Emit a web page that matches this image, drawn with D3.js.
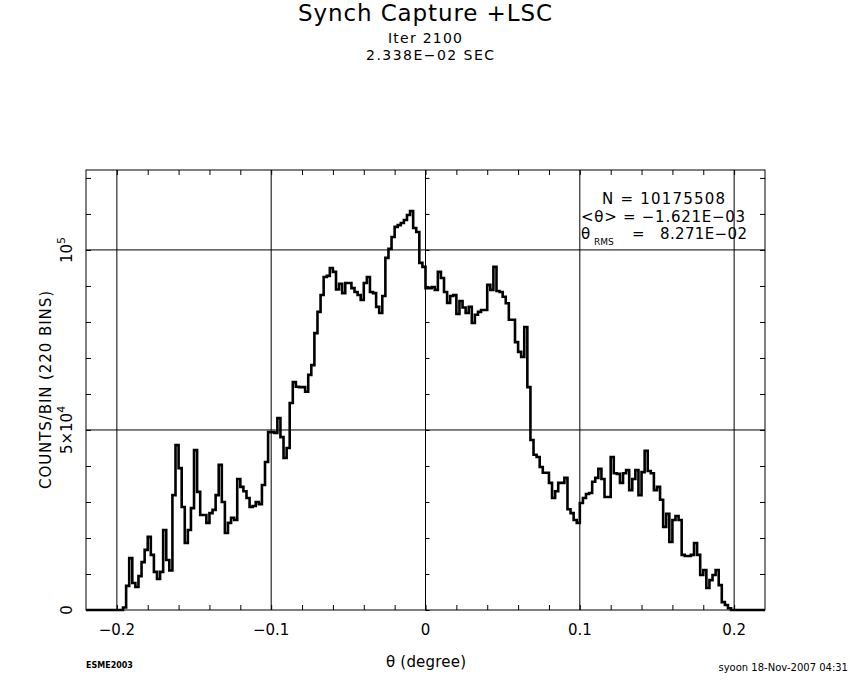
<!DOCTYPE html>
<html>
<head>
<meta charset="utf-8">
<script src="https://cdn.jsdelivr.net/npm/d3@7"></script>
<style>
  body { margin: 0; background: #fff; }
  text { font-family: "DejaVu Sans", sans-serif; fill: #000; }
</style>
</head>
<body>
<script>
// theta histogram, 220 bins of 0.002 deg (counts per bin, in thousands)
var binStart = -0.22;
var binWidth = 0.002;
var countsK = [
  0, 0, 0, 0, 0, 0, 0, 0, 0, 0,
  0, 0, 0.7, 6.7, 14.4, 7.5, 6.4, 9.4, 13.3, 16.7,
  20.3, 15.3, 10.6, 8.6, 10.6, 22.2, 13.9, 11, 31.9, 45.8,
  39.4, 28.6, 18.6, 22.2, 28.3, 44.4, 32.8, 26.4, 26.4, 24.2,
  26.9, 27.8, 31.9, 40.3, 30, 21.4, 24.2, 25.6, 25, 36.4,
  34.2, 33, 31.1, 28.6, 28.9, 30, 29.4, 34.7, 41.1, 49.4,
  49.4, 49.2, 53.3, 48, 42.2, 45, 57.5, 63.3, 62, 61.9,
  61.9, 60.6, 65.3, 68, 76.9, 82.8, 87.5, 92.5, 92.8, 95,
  93.9, 89, 90.6, 88, 90.8, 90.8, 89.4, 88.3, 87.5, 86.1,
  90.8, 92.5, 88.3, 88, 84.2, 82.5, 87.2, 97.8, 100.3, 103.6,
  106.4, 106.9, 107.5, 108.3, 109.7, 110.8, 106.1, 105, 96.4, 95.3,
  89.4, 89.4, 89.7, 88.9, 93.9, 92.2, 88.3, 85.3, 87.2, 87.5,
  82.2, 85.8, 84, 82.5, 84.2, 79.7, 82, 82.8, 83.3, 83.3,
  90.3, 88.9, 95.3, 88.6, 88.3, 87, 85.2, 80.6, 80.6, 74.4,
  71.7, 70.3, 78.6, 61.9, 47.2, 43.1, 42.5, 39.7, 38.1, 38.1,
  35.3, 31.1, 33, 35.3, 35.3, 36.7, 28, 26.9, 25, 24.2,
  29.7, 31.1, 32.2, 32.5, 35.6, 36.7, 39.2, 36.4, 31.4, 31.4,
  42.5, 38, 37.8, 35.3, 38, 38.9, 33.3, 36.4, 38.9, 31.9,
  38.3, 44.2, 38.6, 38, 33.3, 34.2, 30.6, 23.1, 26.7, 18.9,
  25, 26.1, 25, 15.3, 15, 15, 15.3, 18.6, 15.3, 9.7,
  11.1, 6.1, 8.3, 9.7, 11.1, 6.9, 2.2, 1.4, 0.5, 0,
  0, 0, 0, 0, 0, 0, 0, 0, 0, 0
];

var xGrid = [-0.2, -0.1, 0, 0.1, 0.2];
var xLabels = ["\u22120.2", "\u22120.1", "0", "0.1", "0.2"];
var yGrid = [50, 100];
var statN = "N = 10175508";
var statMean = "<\u03b8> = \u22121.621E\u221203";
var statRms = "8.271E\u221202";

var svgWidth = 850;
var svgHeight = 680;
var margin = { top: 170, right: 85, bottom: 70, left: 86 };
var width = svgWidth - margin.left - margin.right;
var height = svgHeight - margin.top - margin.bottom;

var svg = d3.select("body").append("svg")
  .attr("width", svgWidth)
  .attr("height", svgHeight);

var chartGroup = svg.append("g")
  .attr("transform", `translate(${margin.left}, ${margin.top})`);

var xScale = d3.scaleLinear().domain([-0.22, 0.22]).range([0, width]);
var yScale = d3.scaleLinear().domain([0, 122.2]).range([height, 0]);

// small inward ticks on all four sides + on the x=0 line
var xMinor = d3.range(-10, 11).map(k => k * 0.02);
var yMinor = d3.range(0, 121, 10);

function cleanAxis(g) {
  g.select(".domain").remove();
  g.selectAll(".tick text").remove();
  g.selectAll(".tick line").attr("stroke", "#000").attr("stroke-width", 1);
}

chartGroup.append("g")
  .attr("transform", `translate(0, ${height})`)
  .call(d3.axisBottom(xScale).tickValues(xMinor).tickSize(-5))
  .call(cleanAxis);
chartGroup.append("g")
  .call(d3.axisTop(xScale).tickValues(xMinor).tickSize(-5))
  .call(cleanAxis);
chartGroup.append("g")
  .call(d3.axisLeft(yScale).tickValues(yMinor).tickSize(-5))
  .call(cleanAxis);
chartGroup.append("g")
  .attr("transform", `translate(${width}, 0)`)
  .call(d3.axisRight(yScale).tickValues(yMinor).tickSize(-5))
  .call(cleanAxis);
chartGroup.append("g")
  .attr("transform", `translate(${xScale(0)}, 0)`)
  .call(d3.axisRight(yScale).tickValues(yMinor).tickSize(4))
  .call(cleanAxis);

// grid lines
chartGroup.selectAll(".vgrid")
  .data(xGrid)
  .enter()
  .append("line")
  .attr("x1", d => xScale(d)).attr("x2", d => xScale(d))
  .attr("y1", 0).attr("y2", height)
  .attr("stroke", "#000").attr("stroke-width", 1);

chartGroup.selectAll(".hgrid")
  .data(yGrid)
  .enter()
  .append("line")
  .attr("x1", 0).attr("x2", width)
  .attr("y1", d => yScale(d)).attr("y2", d => yScale(d))
  .attr("stroke", "#000").attr("stroke-width", 1);

// frame
chartGroup.append("rect")
  .attr("x", 0).attr("y", 0)
  .attr("width", width).attr("height", height)
  .attr("fill", "none").attr("stroke", "#000").attr("stroke-width", 1);

// histogram as a step line
var histPoints = countsK.map((c, i) => [binStart + i * binWidth, c]);
histPoints.push([binStart + countsK.length * binWidth, countsK[countsK.length - 1]]);

var stepLine = d3.line()
  .x(d => xScale(d[0]))
  .y(d => yScale(d[1]))
  .curve(d3.curveStepAfter);

chartGroup.append("path")
  .datum(histPoints)
  .attr("d", stepLine)
  .attr("fill", "none")
  .attr("stroke", "#000")
  .attr("stroke-width", 2.6)
  .attr("stroke-linejoin", "miter");

// x tick labels
chartGroup.selectAll(".xlab")
  .data(xGrid)
  .enter()
  .append("text")
  .attr("x", d => xScale(d))
  .attr("y", height + 25)
  .attr("text-anchor", "middle")
  .style("font-size", "15px")
  .text((d, i) => xLabels[i]);

// y tick labels (rotated)
svg.append("text")
  .attr("transform", `translate(${margin.left - 14}, ${margin.top + yScale(0)}) rotate(-90)`)
  .attr("text-anchor", "middle")
  .style("font-size", "15px")
  .text("0");

var yl1 = svg.append("text")
  .attr("transform", `translate(${margin.left - 14}, ${margin.top + yScale(50)}) rotate(-90)`)
  .attr("text-anchor", "middle")
  .style("font-size", "15px");
yl1.append("tspan").text("5\u00d710");
yl1.append("tspan").attr("dy", -7).style("font-size", "11px").text("4");

var yl2 = svg.append("text")
  .attr("transform", `translate(${margin.left - 14}, ${margin.top + yScale(100)}) rotate(-90)`)
  .attr("text-anchor", "middle")
  .style("font-size", "15px");
yl2.append("tspan").text("10");
yl2.append("tspan").attr("dy", -7).style("font-size", "11px").text("5");

// axis titles
svg.append("text")
  .attr("transform", "translate(51, 390) rotate(-90)")
  .attr("text-anchor", "middle")
  .style("font-size", "15px")
  .attr("textLength", 198)
  .text("COUNTS/BIN (220 BINS)");

svg.append("text")
  .attr("x", 426).attr("y", 667)
  .attr("text-anchor", "middle")
  .style("font-size", "15px")
  .attr("textLength", 80)
  .text("\u03b8 (degree)");

// titles
svg.append("text")
  .attr("x", 425).attr("y", 21)
  .attr("text-anchor", "middle")
  .style("font-size", "23px")
  .attr("textLength", 254)
  .text("Synch Capture +LSC");

svg.append("text")
  .attr("x", 425).attr("y", 43)
  .attr("text-anchor", "middle")
  .style("font-size", "14px")
  .attr("textLength", 74)
  .text("Iter 2100");

svg.append("text")
  .attr("x", 430).attr("y", 60)
  .attr("text-anchor", "middle")
  .style("font-size", "14px")
  .attr("textLength", 128)
  .text("2.338E\u221202 SEC");

// stats box
svg.append("text")
  .attr("x", 602).attr("y", 204)
  .style("font-size", "15px")
  .attr("textLength", 123)
  .text(statN);

svg.append("text")
  .attr("x", 581).attr("y", 222)
  .style("font-size", "15px")
  .attr("textLength", 164)
  .text(statMean);

svg.append("text")
  .attr("x", 581).attr("y", 239)
  .style("font-size", "15px")
  .text("\u03b8");

svg.append("text")
  .attr("x", 594).attr("y", 245)
  .style("font-size", "9px")
  .text("RMS");

svg.append("text")
  .attr("x", 632).attr("y", 239)
  .style("font-size", "15px")
  .text("=");

svg.append("text")
  .attr("x", 660).attr("y", 239)
  .style("font-size", "15px")
  .attr("textLength", 87)
  .text(statRms);

// footer
svg.append("text")
  .attr("x", 86).attr("y", 668)
  .style("font-size", "8px")
  .style("font-weight", "bold")
  .text("ESME2003");

svg.append("text")
  .attr("x", 848).attr("y", 671)
  .attr("text-anchor", "end")
  .style("font-size", "10px")
  .text("syoon 18-Nov-2007 04:31");
</script>
</body>
</html>
